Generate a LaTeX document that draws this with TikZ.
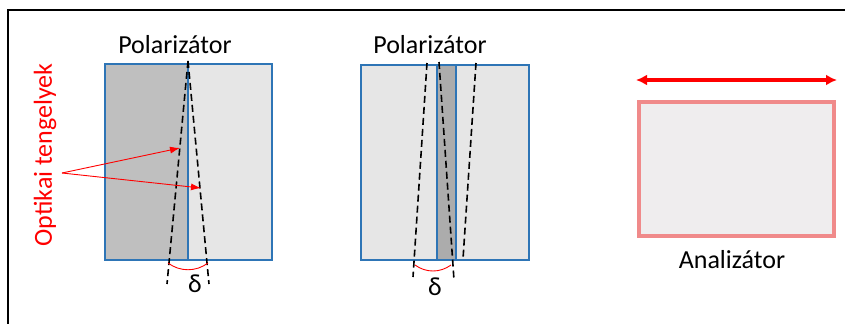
\documentclass[tikz,border=0pt]{standalone}
\usepackage{fontspec}
\setmainfont{Carlito}
\usetikzlibrary{arrows.meta}

\definecolor{plblue}{HTML}{2E75B6}
\definecolor{pldark}{HTML}{BFBFBF}
\definecolor{pllight}{HTML}{E6E6E6}
\definecolor{anfill}{HTML}{EFEDEE}
\definecolor{anedge}{HTML}{F08A8A}

\begin{document}
\begin{tikzpicture}[x=1pt,y=-1pt,
  txt/.style={font=\fontsize{26}{31}\selectfont, inner sep=0pt},
  frame/.style={plblue, line width=2.8pt},
  axis/.style={black, line width=1.6pt, dash pattern=on 7pt off 4pt},
  delta/.style={red, line width=0.9pt},
  pointer/.style={red, line width=0.9pt, -{Latex[length=10pt,width=7pt]}}]

\useasboundingbox (0,0) rectangle (845,324);

%% frame
\draw[line width=1.2pt] (845,10) -- (8,10) -- (8,324);

%% first polarizer
\fill[pldark] (105,64) rectangle (188,260);
\fill[pllight] (188,64) rectangle (272,260);
\draw[frame] (105,64) rectangle (272,260);
\draw[frame] (188,64) -- (188,260);

\node[txt] (pol1) at (175,45) {Polarizátor};

\coordinate (top1) at (188,61);
\coordinate (endL1) at (167,284);
\coordinate (endR1) at (209,284);
\draw[axis] (top1) -- (endL1);
\draw[axis] (top1) -- (endR1);

\coordinate (arcL1) at (168,263);
\coordinate (arcR1) at (208,263);
\draw[delta] (arcL1) .. controls (180,272) and (196,272) .. (arcR1);
\node[txt] (d1) at (195,284) {δ};

%% optical axes label
\node[txt, text=red, rotate=90] (opt) at (45,155) {Optikai tengelyek};
\coordinate (src) at (62,173);
\coordinate (hitL) at (180,148);
\coordinate (hitR) at (201,188);
\draw[pointer] (src) -- (hitL);
\draw[pointer] (src) -- (hitR);

%% second polarizer
\fill[pllight] (361,65) rectangle (529,260);
\fill[pldark!90!black] (437,65) rectangle (456,260);
\draw[frame] (361,65) rectangle (529,260);
\draw[frame] (437,65) -- (437,260);
\draw[frame] (456,65) -- (456,260);

\node[txt] (pol2) at (430,45) {Polarizátor};

\draw[axis] (427,63) -- (413,277);
\draw[axis] (439,62) -- (454,280);
\draw[axis] (476,63) -- (463,259);

\coordinate (arcL2) at (415,265);
\coordinate (arcR2) at (451,265);
\draw[delta] (arcL2) .. controls (426,273) and (440,273) .. (arcR2);
\node[txt] (d2) at (435,287) {δ};

%% analyser
\draw[anedge, fill=anfill, line width=3.2pt] (639,102) rectangle (834,236);
\coordinate (polL) at (636,80);
\coordinate (polR) at (837,80);
\draw[red, line width=3.2pt, {Latex[length=11pt,width=11pt]}-{Latex[length=11pt,width=11pt]}] (polL) -- (polR);
\node[txt] (an) at (732,260) {Analizátor};

\end{tikzpicture}
\end{document}
